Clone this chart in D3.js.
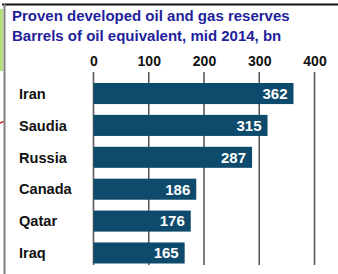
<!DOCTYPE html>
<html>
<head>
<meta charset="utf-8">
<script src="https://cdn.jsdelivr.net/npm/d3@7"></script>
<style>
html,body{margin:0;padding:0;background:#fff;}
svg{display:block;font-family:"Liberation Sans",Arial,sans-serif;}
</style>
</head>
<body>
<svg id="chart" width="338" height="274"></svg>
<script>
const titleLines = ["Proven developed oil and gas reserves", "Barrels of oil equivalent, mid 2014, bn"];
const categories = ["Iran", "Saudia", "Russia", "Canada", "Qatar", "Iraq"];
const values = [362, 315, 287, 186, 176, 165];
const tickValues = [0, 100, 200, 300, 400];

const svg = d3.select("#chart");
const W = 338, H = 274;

// frame decorations
svg.append("rect").attr("x", 0).attr("y", 9).attr("width", 3).attr("height", 62).attr("fill", "#b6e07e");
svg.append("line").attr("x1", 2).attr("x2", W).attr("y1", 4.5).attr("y2", 4.5).attr("stroke", "#111").attr("stroke-width", 2);
svg.append("line").attr("x1", 4.5).attr("x2", 4.5).attr("y1", 4).attr("y2", H).attr("stroke", "#808080").attr("stroke-width", 2);
svg.append("line").attr("x1", 0).attr("x2", 3.5).attr("y1", 123).attr("y2", 121.5).attr("stroke", "#c0282a").attr("stroke-width", 1.5);

// title
svg.selectAll("text.title").data(titleLines).enter().append("text")
  .attr("class", "title")
  .attr("x", 12).attr("y", (d, i) => 21 + i * 20)
  .attr("fill", "#1f1f9c").attr("font-weight", "bold").attr("font-size", "15px")
  .text(d => d);

const x = d3.scaleLinear().domain([0, 400]).range([93.5, 314.5]);
const y = d3.scaleBand().domain(categories).range([83, 263.5]).paddingInner(0.34).paddingOuter(0);

const gridTop = 72, gridBottom = 265;

// axis (top) with ticks as gridlines
const axis = d3.axisTop(x).tickValues(tickValues).tickSize(0).tickPadding(0).tickFormat(d3.format("d"));
const gAxis = svg.append("g").attr("transform", `translate(0,${gridTop})`).call(axis);
gAxis.select(".domain").remove();
gAxis.selectAll("text")
  .attr("y", -6)
  .attr("fill", "#111").attr("font-weight", "bold").attr("font-size", "14px")
  .attr("font-family", "Liberation Sans, Arial, sans-serif");

svg.append("g").selectAll("line").data(tickValues).enter().append("line")
  .attr("x1", d => x(d)).attr("x2", d => x(d))
  .attr("y1", gridTop).attr("y2", gridBottom)
  .attr("stroke", "#5a5a5a").attr("stroke-width", 1.6);

// bars
const data = categories.map((c, i) => ({c, v: values[i]}));
svg.append("g").selectAll("rect").data(data).enter().append("rect")
  .attr("x", x(0)).attr("y", d => y(d.c))
  .attr("width", d => x(d.v) - x(0)).attr("height", y.bandwidth())
  .attr("fill", "#0d4a6b");

// value labels
svg.append("g").selectAll("text").data(data).enter().append("text")
  .attr("x", d => x(d.v) - 6).attr("y", d => y(d.c) + y.bandwidth() / 2)
  .attr("dy", "0.36em").attr("text-anchor", "end")
  .attr("fill", "#fff").attr("font-weight", "bold").attr("font-size", "15px")
  .text(d => d.v);

// category labels
svg.append("g").selectAll("text").data(data).enter().append("text")
  .attr("x", 19).attr("y", d => y(d.c) + y.bandwidth() / 2)
  .attr("dy", "0.36em")
  .attr("fill", "#111").attr("font-weight", "bold").attr("font-size", "14.6px")
  .text(d => d.c);
</script>
</body>
</html>
